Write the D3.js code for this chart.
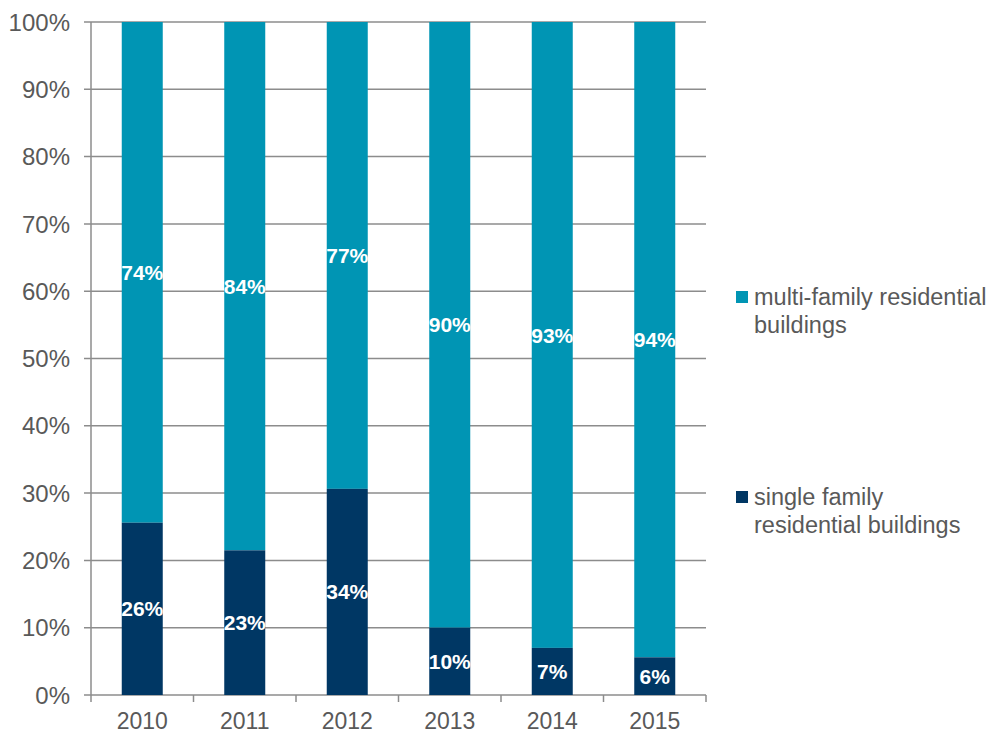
<!DOCTYPE html>
<html>
<head>
<meta charset="utf-8">
<script src="https://cdn.jsdelivr.net/npm/d3@7/dist/d3.min.js"></script>
<style>
  body { margin: 0; background: #fff; }
  svg { display: block; font-family: "Liberation Sans", Arial, sans-serif; }
</style>
</head>
<body>
<svg id="chart" width="992" height="735"></svg>
<script>
var years = ['2010', '2011', '2012', '2013', '2014', '2015'];
var single_family = [25.6, 23, 34, 10, 7, 5.6];
var multi_family = [74.4, 84, 77, 90, 93, 94.4];
var y_ticks = [0, 0.1, 0.2, 0.3, 0.4, 0.5, 0.6, 0.7, 0.8, 0.9, 1];

var colors = {single: '#003764', multi: '#0095b4'};
var grid_color = '#8c8c8c';
var text_color = '#595959';

var margin = {top: 22, left: 91, right: 286, bottom: 40};
var width = 992 - margin.left - margin.right;
var height = 735 - margin.top - margin.bottom;

var svg = d3.select('#chart');
var g = svg.append('g').attr('transform', 'translate(' + margin.left + ',' + margin.top + ')');

var x = d3.scaleBand().domain(years).range([0, width]).paddingInner(0.6).paddingOuter(0.3);
var x_band = d3.scaleBand().domain(years).range([0, width]);
var y = d3.scaleLinear().domain([0, 1]).range([height, 0]);

// normalise each year to 100%
var data = years.map((yr, i) => {
  var total = single_family[i] + multi_family[i];
  return {year: yr, single: single_family[i], multi: multi_family[i],
          s: single_family[i] / total, m: multi_family[i] / total};
});

// grid lines + y tick marks
g.append('g')
  .selectAll('line')
  .data(y_ticks)
  .enter()
  .append('line')
  .attr('x1', -7)
  .attr('x2', width)
  .attr('y1', d => y(d))
  .attr('y2', d => y(d))
  .attr('stroke', grid_color)
  .attr('stroke-width', 1.5);

g.append('g')
  .selectAll('text')
  .data(y_ticks)
  .enter()
  .append('text')
  .attr('x', -21)
  .attr('y', d => y(d))
  .attr('dy', '0.36em')
  .attr('text-anchor', 'end')
  .attr('font-size', 24)
  .attr('fill', text_color)
  .text(d3.format('.0%'));

// bars
var fmt = d3.format('.0%');

g.append('g')
  .selectAll('rect')
  .data(data)
  .enter()
  .append('rect')
  .attr('x', d => x(d.year))
  .attr('width', x.bandwidth())
  .attr('y', d => y(1))
  .attr('height', d => y(d.s) - y(1))
  .attr('fill', colors.multi);

g.append('g')
  .selectAll('rect')
  .data(data)
  .enter()
  .append('rect')
  .attr('x', d => x(d.year))
  .attr('width', x.bandwidth())
  .attr('y', d => y(d.s))
  .attr('height', d => y(0) - y(d.s))
  .attr('fill', colors.single);

// value labels
var labels = g.append('g')
  .attr('font-size', 21)
  .attr('font-weight', 'bold')
  .attr('fill', '#fff')
  .attr('text-anchor', 'middle');

labels.selectAll('text.s')
  .data(data)
  .enter()
  .append('text')
  .attr('class', 's')
  .attr('x', d => x(d.year) + x.bandwidth() / 2)
  .attr('y', d => y(d.s / 2))
  .attr('dy', '0.36em')
  .text(d => fmt(d.single / 100));

labels.selectAll('text.m')
  .data(data)
  .enter()
  .append('text')
  .attr('class', 'm')
  .attr('x', d => x(d.year) + x.bandwidth() / 2)
  .attr('y', d => y(d.s + d.m / 2))
  .attr('dy', '0.36em')
  .text(d => fmt(d.multi / 100));

// axes lines
g.append('line')
  .attr('x1', 0).attr('x2', 0)
  .attr('y1', 0).attr('y2', height)
  .attr('stroke', grid_color)
  .attr('stroke-width', 1.5);

var x_ticks = years.map(yr => x_band(yr)).concat([width]);
g.append('g')
  .selectAll('line')
  .data(x_ticks)
  .enter()
  .append('line')
  .attr('x1', d => d).attr('x2', d => d)
  .attr('y1', height).attr('y2', height + 7)
  .attr('stroke', grid_color)
  .attr('stroke-width', 1.5);

g.append('g')
  .selectAll('text')
  .data(years)
  .enter()
  .append('text')
  .attr('x', d => x_band(d) + x_band.bandwidth() / 2)
  .attr('y', height + 34)
  .attr('text-anchor', 'middle')
  .attr('font-size', 23)
  .attr('fill', text_color)
  .text(d => d);

// legend
var legend_items = [
  {lines: ['multi-family residential', 'buildings'], color: colors.multi, y: 297},
  {lines: ['single family', 'residential buildings'], color: colors.single, y: 497}
];

var legend = svg.append('g');
legend_items.forEach(item => {
  legend.append('rect')
    .attr('x', 736)
    .attr('y', item.y - 6)
    .attr('width', 12)
    .attr('height', 12)
    .attr('fill', item.color);

  var t = legend.append('text')
    .attr('font-size', 23.5)
    .attr('fill', text_color);
  item.lines.forEach((l, i) => {
    t.append('tspan')
      .attr('x', 754)
      .attr('y', item.y + 8 + i * 28)
      .text(l);
  });
});
</script>
</body>
</html>
